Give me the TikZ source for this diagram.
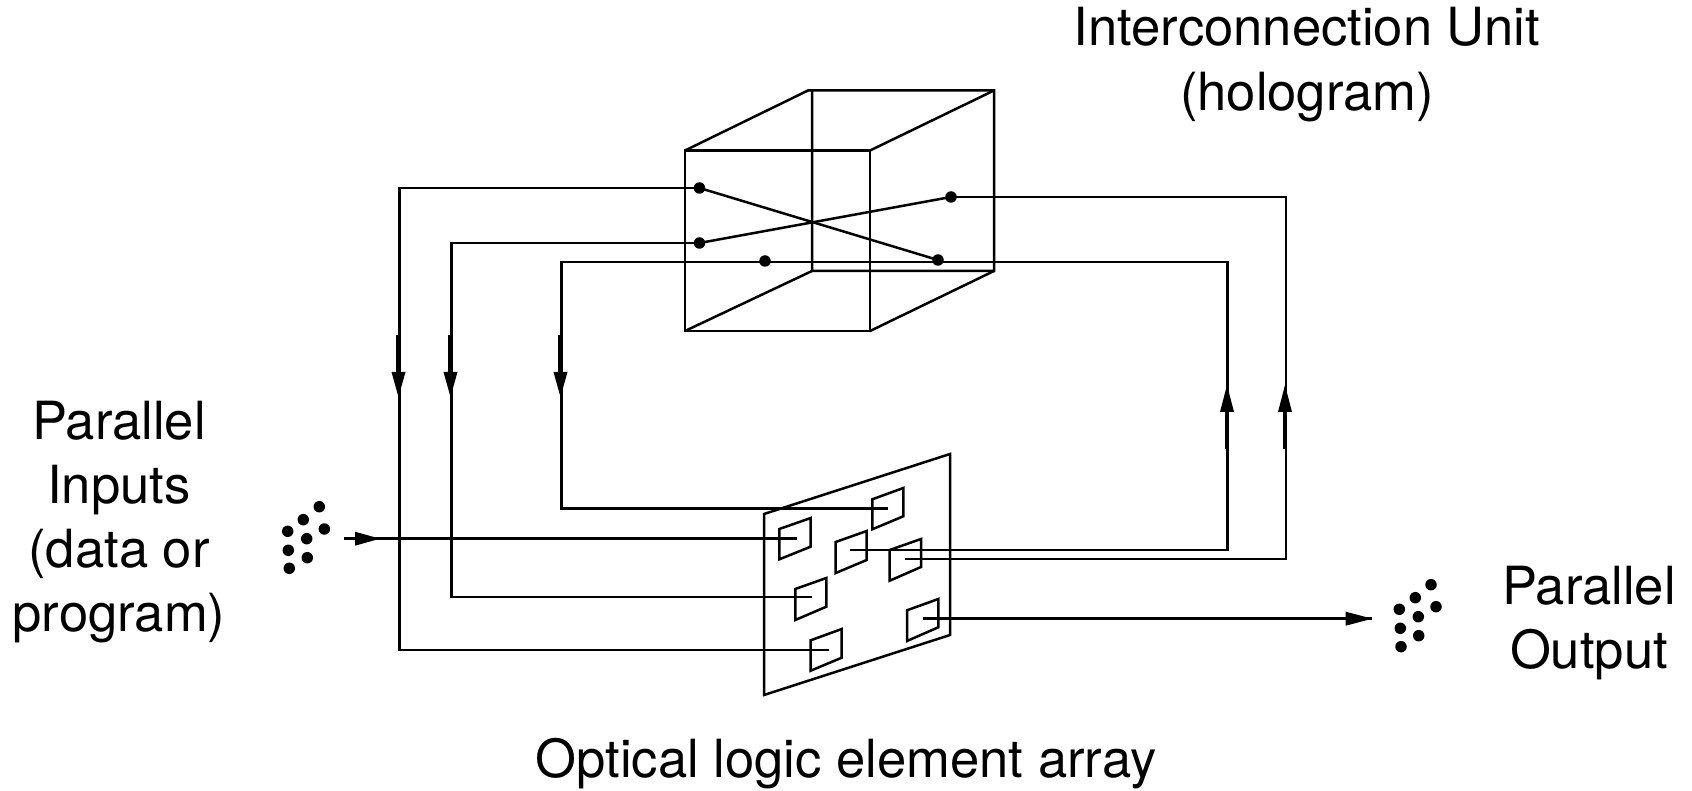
\documentclass[tikz,border=0pt]{standalone}
\usepackage{fontspec}
\setmainfont{TeX Gyre Heros}
\usetikzlibrary{arrows.meta}
\tikzset{
  x=1pt,y=-1pt,
  wire/.style={line width=2.5pt,line cap=butt,line join=miter},
  frame/.style={line width=2.5pt,line join=miter},
  spot/.style={circle,fill=black,inner sep=0pt,minimum size=11.5pt},
  lbl/.style={font=\fontsize{52.6}{62}\selectfont,anchor=base,inner sep=0pt},
  headpoly/.style={fill=black,draw=none},
  junction/.style={coordinate}
}
\newcommand{\headdown}[2]{\fill (#1-7,#2-25)--(#1+7,#2-25)--(#1,#2)--cycle;\draw[line width=3.4pt] (#1-1,#2-62)--(#1-1,#2-25);}
\begin{document}
\begin{tikzpicture}
\useasboundingbox (0,0) rectangle (1692,791);
% cube
\coordinate (ftl) at (685,150.5); \coordinate (ftr) at (870,150.5);
\coordinate (fbl) at (685,331);   \coordinate (fbr) at (870,331);
\coordinate (btl) at (812,90.5);  \coordinate (btr) at (994,90.5);
\coordinate (bbl) at (812,271);   \coordinate (bbr) at (994,271);
\draw[frame] (ftl)--(ftr)--(fbr)--(fbl)--cycle;
\draw[frame] (ftl)--(808,90.5)--(btr)--(bbr)--(bbl)--(btl);
\draw[frame] (ftr)--(btr);
\draw[frame] (fbl)--(bbl);
\draw[frame] (fbr)--(bbr);
% panel
\draw[frame] (764,514)--(950,454)--(950,635)--(764,695)--cycle;
% cells
\draw[frame] (779.3,529)--(810.7,518)--(810.7,546.7)--(779.3,559.3)--cycle;
\draw[frame] (872.3,499.3)--(903.3,488)--(903.3,516.3)--(872.3,529.3)--cycle;
\draw[frame] (835.7,542)--(866.7,531)--(866.7,560)--(835.7,573)--cycle;
\draw[frame] (889.7,550)--(921,539)--(921,567)--(889.7,580.7)--cycle;
\draw[frame] (795.3,589)--(826.3,578)--(826.3,606.7)--(795.3,620)--cycle;
\draw[frame] (810.7,640.3)--(841.7,629)--(841.7,657.7)--(810.7,670.7)--cycle;
\draw[frame] (907,610.3)--(938.3,599)--(938.3,627.3)--(907,641)--cycle;
% hologram dots
\node[spot] (d1) at (699.5,188) {};
\node[spot] (d2) at (699.5,243) {};
\node[spot] (d3) at (765,261) {};
\node[spot] (d4) at (951,197) {};
\node[spot] (d5) at (938,260) {};
% free wire ends at the logic cells
\coordinate (cB) at (888.3,508.7);
\coordinate (cA) at (797.3,538.7);
\coordinate (cE) at (811.7,597);
\coordinate (cF) at (829,650);
\coordinate (cC) at (850,550);
\coordinate (cD) at (905,559);
\coordinate (cG) at (923,618.7);
\coordinate (inS) at (344,538.7);
\coordinate (outE) at (1372,618.7);
\coordinate (c1) at (399.3,188); \coordinate (c1b) at (399.3,650);
\coordinate (c2) at (451.3,243); \coordinate (c2b) at (451.3,597);
\coordinate (c3) at (561.3,262); \coordinate (c3b) at (561.3,508.7);
\coordinate (r1) at (1227.5,262); \coordinate (r1b) at (1227.5,550);
\coordinate (r2) at (1286,197);  \coordinate (r2b) at (1286,559);
% wires
\draw[wire] (d1.center)--(d5.center);
\draw[wire] (d2.center)--(d4.center);
\draw[wire] (d1.center)--(c1)--(c1b)--(cF);
\draw[wire] (d2.center)--(c2)--(c2b)--(cE);
\draw[wire] (cB)--(c3b)--(c3)--(r1)--(r1b)--(cC);
\draw[wire] (d4.center)--(r2)--(r2b)--(cD);
\draw[wire] (inS)--(cA);
\draw[wire] (cG)--(outE);
% arrowheads
\headdown{398.5}{397}
\headdown{450.5}{397}
\headdown{560.5}{397}
\fill (1227,385)--(1234,412)--(1220,412)--cycle; \draw[line width=3.4pt] (1226.5,412)--(1226.5,449);
\fill (1285,385)--(1292,412)--(1278,412)--cycle; \draw[line width=3.4pt] (1284.5,412)--(1284.5,449);
\fill (380,538.7)--(355,531.7)--(355,545.7)--cycle;
\fill (1372.3,618.7)--(1345.7,611.7)--(1345.7,625.7)--cycle;
% input beam dots
\foreach \n/\a/\b in {a/319.3/506.7,b/303.3/519.7,c/287.7/531.3,d/324.3/529,e/306.7/538.7,f/288.3/550.3,g/307.3/557.7,h/289.3/568.3}
  \node[spot] (i\n) at (\a,\b) {};
\foreach \n/\a/\b in {a/1431/584.7,b/1415.3/597.7,c/1399.3/609.3,d/1436/606.7,e/1418.3/616.7,f/1400.3/628.3,g/1418.7/635.7,h/1401/646.7}
  \node[spot] (o\n) at (\a,\b) {};
% labels
\node[lbl] (t1) at (1307,45.5) {Interconnection Unit};
\node[lbl] (t2) at (1307,110.5) {(hologram)};
\node[lbl] (t3) at (119,439.5) {Parallel};
\node[lbl] (t4) at (119,503) {Inputs};
\node[lbl] (t5) at (119,567) {(data or};
\node[lbl] (t6) at (119,631) {program)};
\node[lbl] (t7) at (1589,604) {Parallel};
\node[lbl] (t8) at (1589,668) {Output};
\node[lbl] (t9) at (846,777) {Optical logic element array};
\end{tikzpicture}
\end{document}
